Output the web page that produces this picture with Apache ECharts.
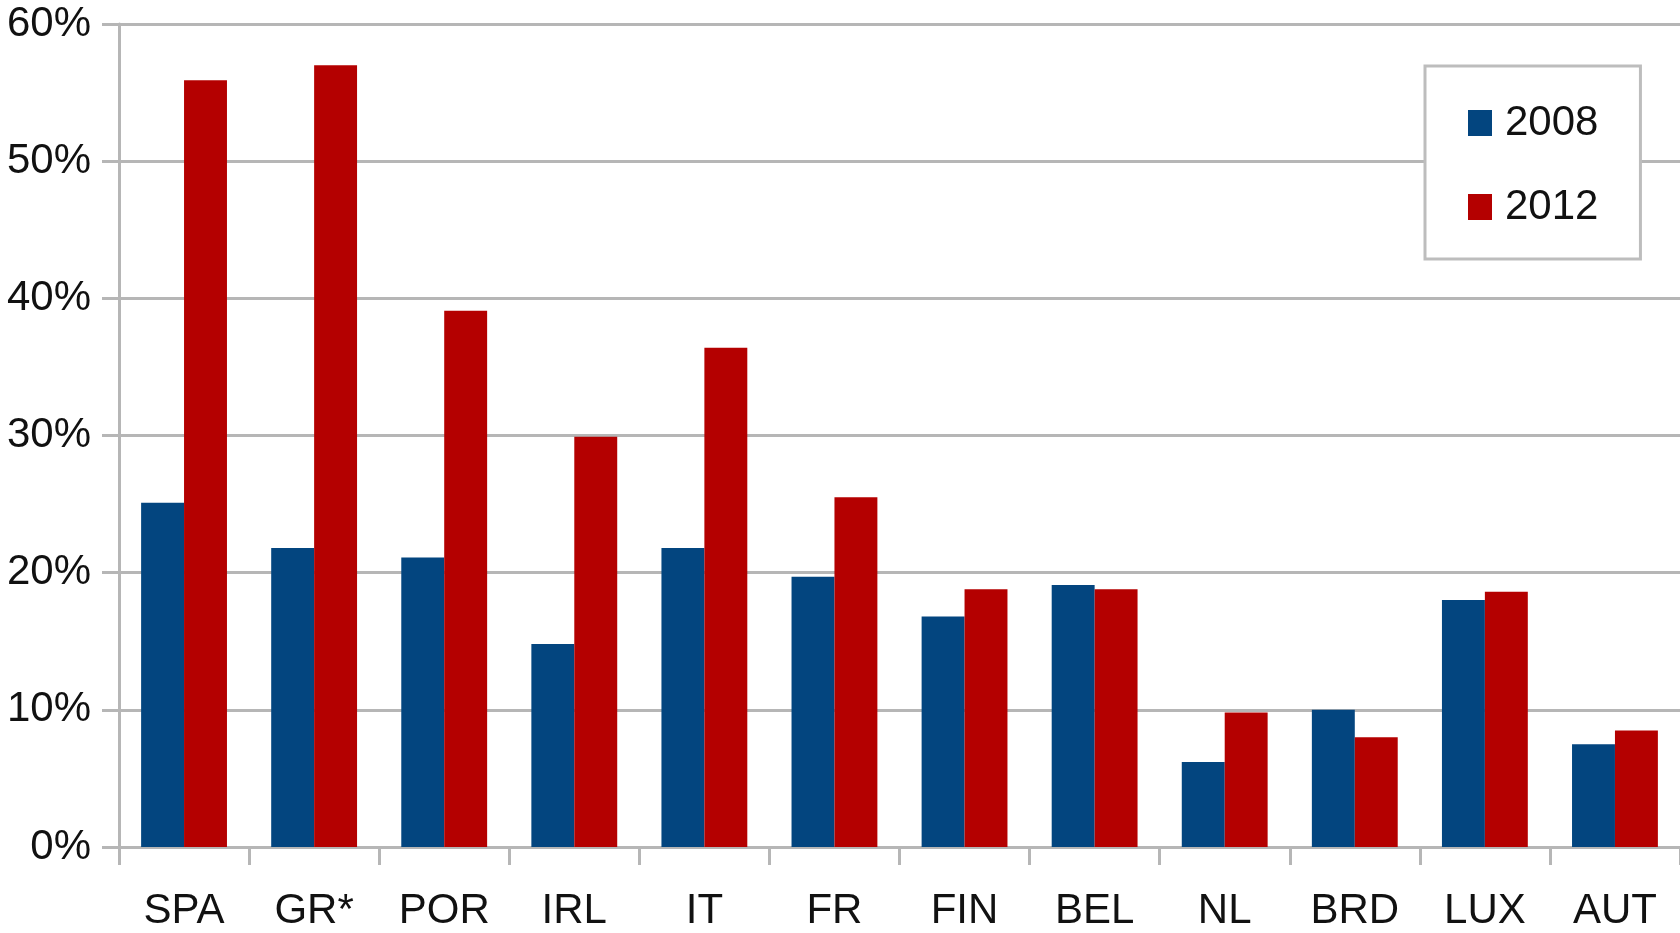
<!DOCTYPE html>
<html>
<head>
<meta charset="utf-8">
<script src="https://cdn.jsdelivr.net/npm/echarts@6/dist/echarts.min.js"></script>
<style>
    html, body { margin: 0; padding: 0; background: #fff; }
    #chart { width: 1680px; height: 933px; }
</style>
</head>
<body>
<div id="chart"></div>
<script>
// 数据
const countries = ['SPA', 'GR*', 'POR', 'IRL', 'IT', 'FR', 'FIN', 'BEL', 'NL', 'BRD', 'LUX', 'AUT']
const values2008 = [25.1, 21.8, 21.1, 14.8, 21.8, 19.7, 16.8, 19.1, 6.2, 10.0, 18.0, 7.5]
const values2012 = [55.9, 57.0, 39.1, 29.9, 36.4, 25.5, 18.8, 18.8, 9.8, 8.0, 18.6, 8.5]
const yTicks = [0, 10, 20, 30, 40, 50, 60]

const gridColor = '#b6b6b6'
const fontFamily = '"Liberation Sans", sans-serif'

const chart = echarts.init(document.getElementById('chart'))

const option = {
    animation: false,
    grid: {
        left: 119,
        right: 0,
        top: 24,
        bottom: 86,
    },
    legend: {
        orient: 'vertical',
        left: 1425,
        top: 66,
        padding: [36, 42, 31, 43],
        itemWidth: 24,
        itemHeight: 26,
        itemGap: 42,
        icon: 'rect',
        backgroundColor: '#fff',
        borderColor: '#bdbdbd',
        borderWidth: 3,
        textStyle: {
            fontFamily: fontFamily,
            fontSize: 42,
            color: '#111',
            padding: [0, 0, 0, 8],
        },
        data: ['2008', '2012'],
    },
    xAxis: {
        type: 'category',
        data: countries,
        axisLine: {
            show: true,
            lineStyle: { color: gridColor, width: 3 },
        },
        axisTick: {
            show: true,
            interval: 0,
            length: 18,
            lineStyle: { color: gridColor, width: 3 },
        },
        axisLabel: {
            interval: 0,
            margin: 43,
            fontFamily: fontFamily,
            fontSize: 42,
            color: '#111',
        },
    },
    yAxis: {
        type: 'value',
        min: yTicks[0],
        max: yTicks[yTicks.length - 1],
        interval: 10,
        axisLine: {
            show: true,
            lineStyle: { color: gridColor, width: 3 },
        },
        axisTick: {
            show: true,
            length: 17,
            lineStyle: { color: gridColor, width: 3 },
        },
        splitLine: {
            show: true,
            lineStyle: { color: gridColor, width: 3 },
        },
        axisLabel: {
            formatter: '{value}%',
            margin: 28,
            padding: [6, 0, 0, 0],
            fontFamily: fontFamily,
            fontSize: 42,
            color: '#111',
        },
    },
    series: [
        {
            name: '2008',
            type: 'bar',
            data: values2008,
            barWidth: '33%',
            barGap: '0%',
            itemStyle: { color: '#03457f' },
        },
        {
            name: '2012',
            type: 'bar',
            data: values2012,
            barWidth: '33%',
            itemStyle: { color: '#b40000' },
        },
    ],
}

option && chart.setOption(option)
</script>
</body>
</html>
